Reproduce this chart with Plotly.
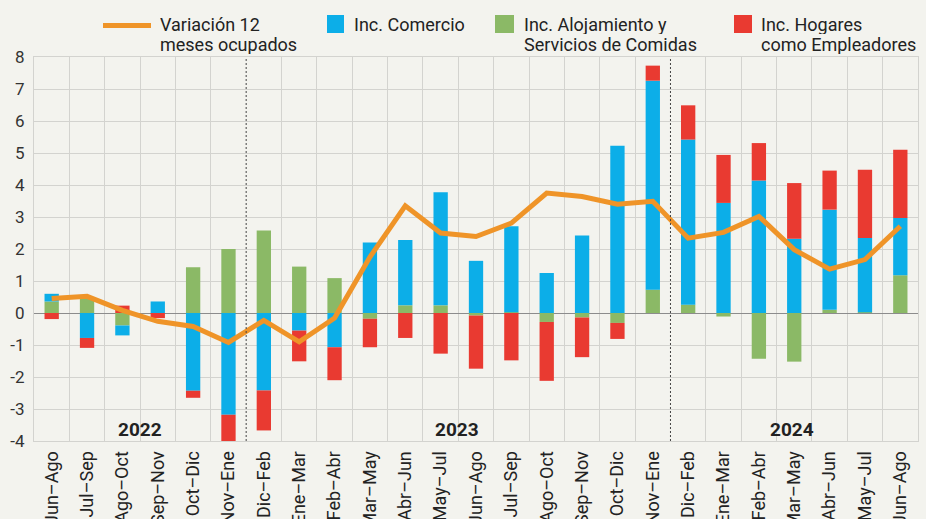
import plotly.graph_objects as go

periods = ["Jun–Ago", "Jul–Sep", "Ago–Oct", "Sep–Nov", "Oct–Dic", "Nov–Ene",
           "Dic–Feb", "Ene–Mar", "Feb–Abr", "Mar–May", "Abr–Jun", "May–Jul",
           "Jun–Ago", "Jul–Sep", "Ago–Oct", "Sep–Nov", "Oct–Dic", "Nov–Ene",
           "Dic–Feb", "Ene–Mar", "Feb–Abr", "Mar–May", "Abr–Jun", "May–Jul", "Jun–Ago"]

variacion = [0.45, 0.52, 0.08, -0.26, -0.42, -0.92, -0.23, -0.90, -0.16, 1.75,
             3.35, 2.50, 2.39, 2.81, 3.75, 3.64, 3.40, 3.49, 2.34, 2.52,
             3.02, 1.98, 1.37, 1.67, 2.71]

alojamiento = [0.36, 0.50, -0.39, 0.00, 1.43, 2.00, 2.58, 1.45, 1.09, -0.18,
               0.24, 0.24, -0.08, 0.02, -0.28, -0.14, -0.31, 0.73, 0.26, -0.11,
               -1.43, -1.52, 0.10, 0.02, 1.18]

comercio = [0.24, -0.78, -0.31, 0.36, -2.43, -3.18, -2.42, -0.55, -1.07, 2.20,
            2.04, 3.53, 1.63, 2.69, 1.25, 2.42, 5.23, 6.53, 5.16, 3.44,
            4.14, 2.32, 3.13, 2.32, 1.79]

hogares = [-0.19, -0.31, 0.23, -0.16, -0.22, -0.85, -1.25, -0.96, -1.03, -0.89,
           -0.78, -1.27, -1.66, -1.48, -1.84, -1.24, -0.50, 0.47, 1.07, 1.50,
           1.17, 1.74, 1.22, 2.14, 2.13]

y_ticks = [-4, -3, -2, -1, 0, 1, 2, 3, 4, 5, 6, 7, 8]
y_ticklabels = ["-4", "-3", "-2", "-1", "0", "1", "2", "3", "4", "5", "6", "7", "8"]

year_labels = ["2022", "2023", "2024"]
year_pos = [2.5, 11.45, 20.95]
year_breaks = [5.5, 17.5]

C_LINE = "#ef9428"
C_COM = "#0caee8"
C_ALO = "#8bb966"
C_HOG = "#e93a31"
BG = "#f3f3ee"
GRID = "#d3d3cf"
FONT = "Roboto, 'Liberation Sans', Arial, sans-serif"
TXT = "#222222"

W, H = 926, 519
L, R, T, B = 34, 918, 57, 441

x = list(range(len(periods)))

fig = go.Figure()
fig.add_trace(go.Bar(x=x, y=alojamiento, marker_color=C_ALO, marker_line_width=0,
                     name="Inc. Alojamiento y Servicios de Comidas"))
fig.add_trace(go.Bar(x=x, y=comercio, marker_color=C_COM, marker_line_width=0,
                     name="Inc. Comercio"))
fig.add_trace(go.Bar(x=x, y=hogares, marker_color=C_HOG, marker_line_width=0,
                     name="Inc. Hogares como Empleadores"))
fig.add_trace(go.Scatter(x=x, y=variacion, mode="lines",
                         line=dict(color=C_LINE, width=5),
                         name="Variación 12 meses ocupados"))

boundaries = [i - 0.5 for i in range(len(periods) + 1)]
solid_bounds = [b for b in boundaries if b not in year_breaks]

fig.update_layout(
    width=W, height=H,
    margin=dict(l=L, r=W - R, t=T, b=H - B, pad=0, autoexpand=False),
    paper_bgcolor=BG, plot_bgcolor=BG,
    barmode="relative", bargap=0.595,
    showlegend=False,
    font=dict(family=FONT, color=TXT),
)
fig.update_xaxes(
    automargin=False,
    range=[-0.5, len(periods) - 0.5],
    tickmode="array", tickvals=x, ticktext=periods, tickangle=-90,
    tickfont=dict(size=18, color=TXT, family=FONT),
    showgrid=False, ticks="", ticklabelstandoff=2,
    minor=dict(tickmode="array", tickvals=solid_bounds, showgrid=True,
               gridcolor=GRID, gridwidth=1, ticks=""),
    showline=True, linecolor=GRID, linewidth=1, mirror=True,
    zeroline=False,
)
fig.update_yaxes(
    automargin=False,
    range=[-4, 8], tickmode="array", tickvals=y_ticks, ticktext=y_ticklabels,
    tickfont=dict(size=17, color="#333333", family=FONT),
    showgrid=True, gridcolor=GRID, gridwidth=1,
    zeroline=True, zerolinecolor="#8c8c8c", zerolinewidth=1,
    showline=True, linecolor=GRID, linewidth=1, mirror=True,
    ticks="", ticklabelstandoff=5,
)

for b in year_breaks:
    fig.add_shape(type="line", xref="x", yref="paper", x0=b, x1=b, y0=0, y1=1,
                  line=dict(color="#444444", width=1, dash="2px,2px"), layer="above")

for lab, pos in zip(year_labels, year_pos):
    fig.add_annotation(x=pos, y=-3.65, xref="x", yref="y", text=f"<b>{lab}</b>",
                       showarrow=False, font=dict(size=19, color=TXT, family=FONT))

# legend drawn in pixel terms relative to plot area
def px(v):
    return (v - L) / (R - L)

def py(v):
    return (B - v) / (B - T)

fig.add_shape(type="line", xref="paper", yref="paper", x0=px(103), x1=px(151),
              y0=py(25.5), y1=py(25.5), line=dict(color=C_LINE, width=5))
for (x0, x1, col) in [(327, 344, C_COM), (495, 514, C_ALO), (734, 752, C_HOG)]:
    fig.add_shape(type="rect", xref="paper", yref="paper", x0=px(x0), x1=px(x1),
                  y0=py(33), y1=py(15), fillcolor=col, line_width=0)

legend_text = [
    (158, "Variación 12", "meses ocupados"),
    (352, "Inc. Comercio", None),
    (522, "Inc. Alojamiento y", "Servicios de Comidas"),
    (759, "Inc. Hogares", "como Empleadores"),
]
for (lx, l1, l2) in legend_text:
    fig.add_annotation(xref="paper", yref="paper", x=px(lx), y=py(23.5), text=l1,
                       showarrow=False, xanchor="left", yanchor="middle", height=20,
                       font=dict(size=18, color=TXT, family=FONT))
    if l2:
        fig.add_annotation(xref="paper", yref="paper", x=px(lx), y=py(44), text=l2,
                           showarrow=False, xanchor="left", yanchor="middle", height=20,
                           font=dict(size=18, color=TXT, family=FONT))

fig.write_html("out.html")
